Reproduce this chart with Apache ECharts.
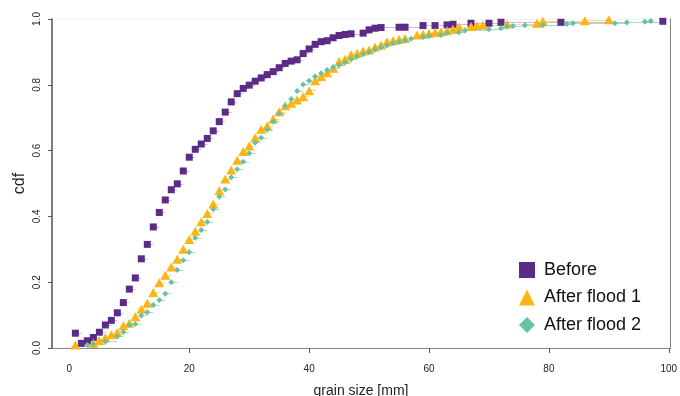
<!DOCTYPE html>
<html>
<head>
<meta charset="utf-8">
<script src="https://cdn.jsdelivr.net/npm/echarts@6/dist/echarts.min.js"></script>
<style>
  html, body { margin: 0; padding: 0; background: #fff; }
  #chart { width: 680px; height: 396px; }
</style>
</head>
<body>
<div id="chart"></div>
<script>
// grain size [mm] and cdf values
const beforeX = [1, 2, 3, 4, 5, 6, 7, 8, 9, 10, 11, 12, 13, 14, 15, 16, 17, 18, 19, 20,
  21, 22, 23, 24, 25, 26, 27, 28, 29, 30, 31, 32, 33, 34, 35, 36, 37, 38, 39, 40,
  41, 42, 43, 44, 45, 46, 47, 49, 50, 51, 52, 55, 56, 59, 61, 63, 64, 67, 70, 72, 82, 99];
const beforeY = [0.045, 0.014, 0.022, 0.032, 0.048, 0.07, 0.084, 0.107, 0.138, 0.179, 0.213, 0.271, 0.315, 0.368, 0.412, 0.45, 0.481, 0.499, 0.538, 0.58,
  0.604, 0.62, 0.637, 0.66, 0.688, 0.717, 0.748, 0.773, 0.789, 0.799, 0.811, 0.821, 0.831, 0.84, 0.852, 0.865, 0.872, 0.876, 0.895, 0.909,
  0.923, 0.931, 0.934, 0.943, 0.95, 0.953, 0.955, 0.957, 0.967, 0.972, 0.974, 0.975, 0.975, 0.98, 0.98, 0.982, 0.984, 0.987, 0.987, 0.99, 0.99, 0.993];

const flood1X = [1, 4, 5, 6, 7, 8, 9, 10, 11, 12, 13, 14, 15, 16, 17, 18, 19, 20, 21, 22,
  23, 24, 25, 26, 27, 28, 29, 30, 31, 32, 33, 34, 35, 36, 37, 38, 39, 40, 41, 42,
  43, 44, 45, 46, 47, 48, 49, 50, 51, 52, 53, 54, 55, 56, 58, 59, 60, 61, 62, 63,
  64, 65, 67, 68, 69, 73, 78, 79, 86, 90];
const flood1Y = [0.009, 0.014, 0.022, 0.031, 0.04, 0.047, 0.068, 0.075, 0.095, 0.118, 0.136, 0.169, 0.198, 0.221, 0.246, 0.27, 0.3, 0.33, 0.355, 0.384,
  0.409, 0.438, 0.478, 0.514, 0.541, 0.571, 0.597, 0.614, 0.639, 0.665, 0.675, 0.696, 0.718, 0.736, 0.744, 0.754, 0.764, 0.782, 0.812, 0.825,
  0.837, 0.85, 0.871, 0.878, 0.891, 0.896, 0.903, 0.906, 0.915, 0.921, 0.931, 0.934, 0.938, 0.941, 0.951, 0.954, 0.957, 0.96, 0.961, 0.964,
  0.969, 0.976, 0.977, 0.98, 0.982, 0.985, 0.987, 0.993, 0.995, 0.998];

const flood2X = [3, 4, 6, 8, 9, 10, 11, 12, 13, 14, 15, 16, 17, 18, 19, 20, 21, 22, 23, 24,
  25, 26, 27, 28, 29, 30, 31, 32, 33, 34, 35, 36, 37, 38, 39, 40, 41, 42, 43, 44,
  45, 46, 47, 48, 49, 50, 51, 52, 53, 54, 55, 56, 57, 59, 60, 62, 63, 65, 66, 70,
  72, 73, 74, 76, 79, 83, 84, 91, 93, 96, 97];
const flood2Y = [0.009, 0.012, 0.02, 0.035, 0.049, 0.071, 0.073, 0.099, 0.109, 0.131, 0.146, 0.165, 0.2, 0.237, 0.267, 0.291, 0.335, 0.359, 0.383, 0.422,
  0.46, 0.482, 0.519, 0.543, 0.566, 0.592, 0.624, 0.639, 0.663, 0.688, 0.713, 0.736, 0.757, 0.781, 0.801, 0.812, 0.825, 0.835, 0.845, 0.853,
  0.86, 0.868, 0.878, 0.886, 0.893, 0.9, 0.907, 0.913, 0.92, 0.926, 0.93, 0.935, 0.94, 0.945, 0.948, 0.951, 0.958, 0.96, 0.965, 0.969,
  0.972, 0.977, 0.979, 0.981, 0.981, 0.985, 0.987, 0.987, 0.989, 0.992, 0.994];

const xTicks = [0, 20, 40, 60, 80, 100];

const FONT = 'Liberation Sans, Arial, sans-serif';
const PURPLE = '#5c2a87';
const ORANGE = '#fdb515';
const TEAL = '#66c2a5';

const pairs = (xs, ys) => xs.map((x, i) => [x, ys[i]]);

// horizontal ecdf steps: from each point to the next x
function steps(xs, ys) {
  const out = [];
  for (let i = 0; i < xs.length - 1; i++) {
    out.push({ coords: [[xs[i], ys[i]], [xs[i + 1], ys[i]]] });
  }
  return out;
}

function stepSeries(xs, ys, color) {
  return {
    type: 'lines',
    coordinateSystem: 'cartesian2d',
    data: steps(xs, ys),
    lineStyle: { color: color, width: 1, opacity: 1 },
    silent: true,
    z: 1
  };
}

const chart = echarts.init(document.getElementById('chart'));

chart.setOption({
  animation: false,
  textStyle: { fontFamily: FONT },
  grid: {
    left: 52, right: 10, top: 19, bottom: 48,
    outerBoundsMode: 'none',
    show: true, borderColor: '#f0f0f0', borderWidth: 1
  },
  legend: {
    orient: 'vertical',
    left: 514,
    top: 256,
    itemWidth: 16,
    itemHeight: 16,
    itemGap: 9.5,
    textStyle: { fontSize: 18, color: '#111', fontFamily: FONT, lineHeight: 18, padding: [0, 0, 0, 4] },
    data: [
      { name: 'Before', icon: 'rect' },
      { name: 'After flood 1', icon: 'triangle' },
      { name: 'After flood 2', icon: 'diamond' }
    ]
  },
  xAxis: [{
    type: 'value',
    min: -2.9,
    max: 100.2,
    name: 'grain size [mm]',
    nameLocation: 'middle',
    nameGap: 36,
    nameTextStyle: { fontSize: 14, color: '#222' },
    axisLine: { show: true, onZero: false, lineStyle: { color: '#888', width: 1 } },
    axisTick: { show: true, length: 5, lineStyle: { color: '#555' }, customValues: xTicks.slice(1) },
    axisLabel: { fontSize: 10, color: '#222', margin: 16, customValues: xTicks },
    splitLine: { show: false }
  }],
  yAxis: [{
    type: 'value',
    min: 0,
    max: 1,
    interval: 0.2,
    name: 'cdf',
    nameLocation: 'middle',
    nameGap: 24,
    nameMoveOverlap: false,
    nameRotate: 90,
    nameTextStyle: { fontSize: 16, color: '#222' },
    axisLine: { show: true, onZero: false, lineStyle: { color: '#555', width: 1.5 } },
    axisTick: { show: true, length: 4, lineStyle: { color: '#555' } },
    axisLabel: {
      fontSize: 10, color: '#222', rotate: 90, margin: 10,
      formatter: v => v.toFixed(1)
    },
    splitLine: { show: false }
  }, {
    type: 'value',
    position: 'right',
    min: 0,
    max: 1,
    axisLine: { show: true, onZero: false, lineStyle: { color: '#888', width: 1 } },
    axisTick: { show: false },
    axisLabel: { show: false },
    splitLine: { show: false }
  }],
  series: [
    stepSeries(beforeX, beforeY, '#cdbbdc'),
    stepSeries(flood1X, flood1Y, '#fbd98a'),
    stepSeries(flood2X, flood2Y, '#a9dcc9'),
    {
      name: 'Before',
      type: 'scatter',
      symbol: 'rect',
      symbolSize: 7,
      itemStyle: { color: PURPLE, opacity: 1 },
      data: pairs(beforeX, beforeY),
      z: 3
    },
    {
      name: 'After flood 1',
      type: 'scatter',
      symbol: 'triangle',
      symbolSize: [10, 9],
      itemStyle: { color: ORANGE, opacity: 1 },
      data: pairs(flood1X, flood1Y),
      z: 3
    },
    {
      name: 'After flood 2',
      type: 'scatter',
      symbol: 'diamond',
      symbolSize: 6,
      itemStyle: { color: TEAL, opacity: 1 },
      data: pairs(flood2X, flood2Y),
      z: 3
    }
  ]
});
</script>
</body>
</html>
